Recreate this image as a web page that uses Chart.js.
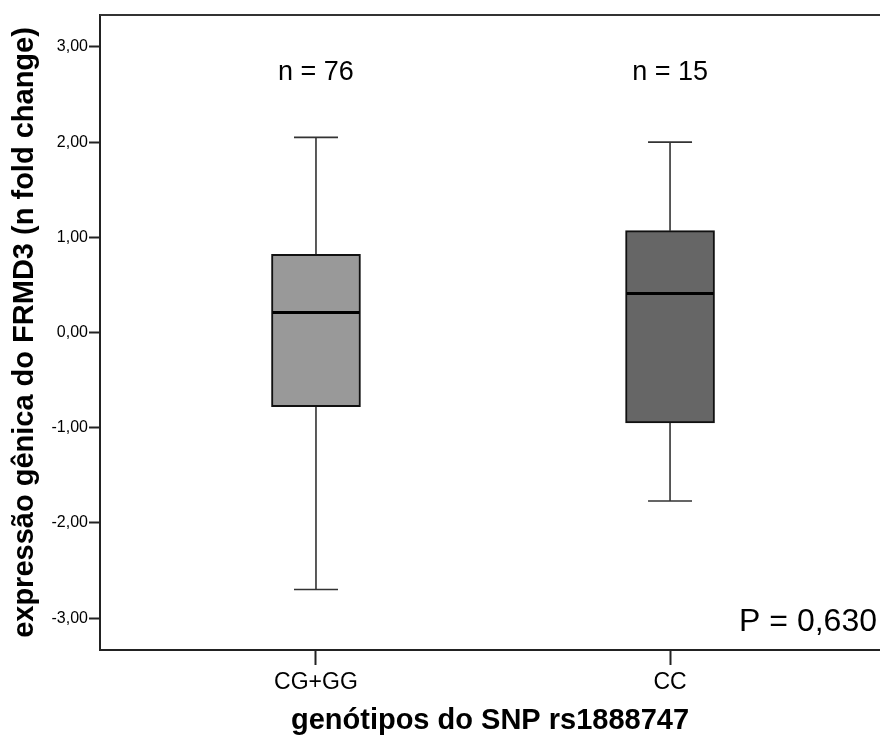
<!DOCTYPE html>
<html>
<head>
<meta charset="utf-8">
<script src="https://cdn.jsdelivr.net/npm/chart.js@4"></script>
<style>
  body { margin: 0; background: #fff; }
  #chart { display: block; }
</style>
</head>
<body>
<canvas id="chart" width="880" height="739"></canvas>
<script>
// genotype groups and their box-plot summaries
const categories = ["CG+GG", "CC"];
const minValues = [-2.70, -1.77];
const q1Values = [-0.78, -0.95];
const medianValues = [0.21, 0.41];
const q3Values = [0.82, 1.07];
const maxValues = [2.05, 2.00];
const nLabels = ["n = 76", "n = 15"];
const pLabel = "P = 0,630";
const yTicks = [-3, -2, -1, 0, 1, 2, 3];
const boxColors = ["#999999", "#666666"];

const FONT = "'Liberation Sans', Arial, sans-serif";

// whiskers behind the boxes, medians + annotations on top
const boxPlotExtras = {
  id: "boxPlotExtras",
  beforeDatasetsDraw(chart) {
    const { ctx, scales: { x, y } } = chart;
    ctx.save();
    ctx.strokeStyle = "#333";
    ctx.lineWidth = 1.6;
    categories.forEach((c, i) => {
      const px = x.getPixelForValue(i + 1);
      const capHalf = 22;
      ctx.beginPath();
      ctx.moveTo(px, y.getPixelForValue(q3Values[i]));
      ctx.lineTo(px, y.getPixelForValue(maxValues[i]));
      ctx.moveTo(px, y.getPixelForValue(q1Values[i]));
      ctx.lineTo(px, y.getPixelForValue(minValues[i]));
      ctx.moveTo(px - capHalf, y.getPixelForValue(maxValues[i]));
      ctx.lineTo(px + capHalf, y.getPixelForValue(maxValues[i]));
      ctx.moveTo(px - capHalf, y.getPixelForValue(minValues[i]));
      ctx.lineTo(px + capHalf, y.getPixelForValue(minValues[i]));
      ctx.stroke();
    });
    ctx.restore();
  },
  afterDatasetsDraw(chart) {
    const { ctx, chartArea, scales: { x, y } } = chart;
    ctx.save();
    ctx.strokeStyle = "#000";
    ctx.lineWidth = 3;
    categories.forEach((c, i) => {
      const px = x.getPixelForValue(i + 1);
      const py = y.getPixelForValue(medianValues[i]);
      ctx.beginPath();
      ctx.moveTo(px - 43.5, py);
      ctx.lineTo(px + 43.5, py);
      ctx.stroke();
    });

    // top frame line (plot runs off the right edge, so no right side)
    ctx.strokeStyle = "#333";
    ctx.lineWidth = 2;
    ctx.beginPath();
    ctx.moveTo(chartArea.left, chartArea.top);
    ctx.lineTo(chartArea.right, chartArea.top);
    ctx.stroke();

    ctx.fillStyle = "#000";
    ctx.textAlign = "center";
    ctx.textBaseline = "alphabetic";
    ctx.font = "27px " + FONT;
    nLabels.forEach((t, i) => {
      ctx.fillText(t, x.getPixelForValue(i + 1), chartArea.top + 65);
    });

    ctx.textAlign = "right";
    ctx.font = "32px " + FONT;
    ctx.fillText(pLabel, chartArea.right - 3, chartArea.bottom - 19);
    ctx.restore();
  }
};

new Chart(document.getElementById("chart"), {
  type: "bar",
  data: {
    datasets: [{
      data: categories.map((c, i) => ({ x: i + 1, y: [q1Values[i], q3Values[i]] })),
      backgroundColor: boxColors,
      borderColor: "#111",
      borderWidth: 2,
      borderSkipped: false,
      barThickness: 89
    }]
  },
  options: {
    responsive: false,
    animation: false,
    layout: { padding: { top: 15, left: 0, right: 0, bottom: 0 } },
    plugins: {
      legend: { display: false },
      tooltip: { enabled: false }
    },
    scales: {
      x: {
        type: "linear",
        offset: false,
        min: 0.39,
        max: 2.593,
        afterBuildTicks: (scale) => { scale.ticks = categories.map((c, i) => ({ value: i + 1 })); },
        afterFit: (scale) => { scale.height = 89; },
        ticks: {
          callback: (v) => categories[v - 1],
          color: "#000",
          font: { family: FONT, size: 23 },
          padding: 4,
          maxRotation: 0
        },
        grid: { offset: false, drawOnChartArea: false, drawTicks: true, tickLength: 15, tickWidth: 2, tickColor: "#222" },
        border: { display: true, color: "#222", width: 2 },
        title: {
          display: true,
          text: "genótipos do SNP rs1888747",
          color: "#000",
          font: { family: FONT, size: 29, weight: "bold" },
          padding: { top: 0, bottom: 1 }
        }
      },
      y: {
        min: -3.335,
        max: 3.335,
        afterBuildTicks: (scale) => { scale.ticks = yTicks.map((v) => ({ value: v })); },
        afterFit: (scale) => { scale.width = 100; },
        ticks: {
          callback: (v) => v.toFixed(2).replace(".", ","),
          color: "#000",
          font: { family: FONT, size: 16 },
          padding: 1
        },
        grid: { drawOnChartArea: false, drawTicks: true, tickLength: 11, tickWidth: 2, tickColor: "#222" },
        border: { display: true, color: "#222", width: 2 },
        title: {
          display: true,
          text: "expressão gênica do FRMD3 (n fold change)",
          color: "#000",
          font: { family: FONT, size: 29, weight: "bold" },
          padding: { top: 8, bottom: 0 }
        }
      }
    }
  },
  plugins: [boxPlotExtras]
});
</script>
</body>
</html>
